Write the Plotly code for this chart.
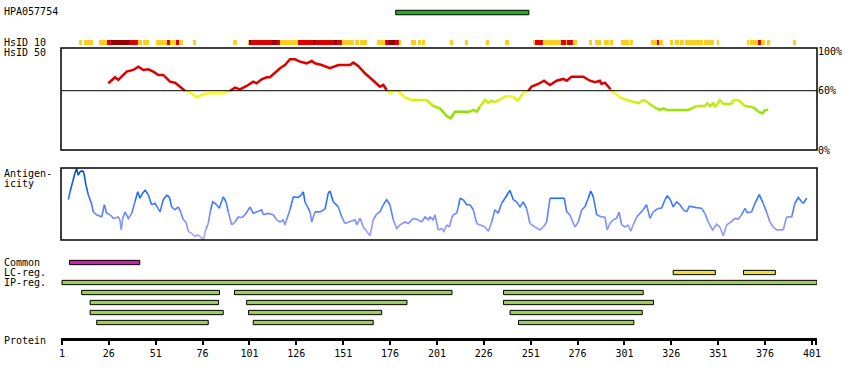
import plotly.graph_objects as go

W, H = 850, 380
FONT = "DejaVu Sans Mono"


def py(p):
    return 1 - p / H


# ---------------- data ----------------
antibody_name = "HPA057754"
antibody_start = [179]
antibody_end = [250]

hsid10_orange = [(10.1, 11.7), (12.7, 17.5), (20.7, 25.0), (41.5, 43.7), (44.2, 47.4), (51.1, 57.0),
                 (58.6, 61.8), (63.4, 65.5), (70.9, 72.5), (92.2, 94.3), (100.2, 100.7), (117.3, 126.9),
                 (150.3, 156.7), (157.3, 159.4), (159.9, 163.7), (169.0, 173.3), (180.7, 181.8),
                 (187.1, 189.8), (190.9, 192.5), (193.0, 194.6), (207.9, 209.5), (215.9, 217.5),
                 (227.1, 228.7), (237.3, 239.4), (252.2, 253.3), (257.5, 267.1), (269.8, 270.3),
                 (273.5, 275.7), (282.1, 283.7), (285.3, 288.5), (290.1, 292.7), (293.3, 294.9),
                 (299.1, 303.4), (303.9, 305.5), (315.1, 318.3), (319.4, 321.5), (325.3, 326.9),
                 (327.9, 330.1), (330.6, 332.7), (333.3, 342.9), (343.4, 348.7), (350.3, 351.4),
                 (366.3, 367.4), (367.9, 372.2), (373.8, 376.0), (377.0, 378.6), (390.9, 392.5)]
hsid10_red = [(25.0, 27.1), (37.3, 41.5), (57.0, 58.6), (61.8, 63.4), (101.8, 113.0), (115.7, 117.3),
              (126.9, 134.9), (136.5, 146.1), (147.7, 150.3), (173.3, 174.9), (178.6, 180.7),
              (253.3, 257.5), (267.1, 269.8), (270.3, 273.5), (318.3, 319.4), (372.2, 373.8)]
hsid10_darkred = [(27.1, 37.3), (100.7, 101.8), (113.0, 115.7), (134.9, 136.5), (146.1, 147.7),
                  (174.9, 178.6)]

hsid50_res = [25.7, 29.3, 31.0, 35.5, 39.0, 41.7, 44.4, 47.0, 49.7, 52.4, 55.0, 58.6, 61.3, 64.8, 66.6,
              70.2, 72.8, 75.5, 78.2, 87.0, 90.6, 93.3, 95.9, 99.5, 103.0, 104.8, 107.5, 110.2, 111.9,
              114.6, 117.3, 119.9, 122.6, 125.3, 127.9, 131.5, 134.2, 135.9, 139.5, 143.9, 148.4,
              154.6, 156.4, 159.0, 162.6, 166.2, 170.6, 172.4, 174.2, 175.9, 177.7, 180.4, 183.9,
              187.5, 190.2, 193.7,
              195.5, 199.0, 202.6, 206.2, 208.3, 210.6, 218.6, 220.4, 222.2, 223.9, 226.6, 228.4,
              230.2, 231.9, 234.6, 238.2, 241.7, 243.9, 247.0, 249.7, 251.5, 255.0, 258.1, 261.3,
              264.8, 268.4, 270.2, 272.8, 279.0, 282.6, 285.3, 287.9, 288.8, 290.6, 293.6, 295.9,
              298.6, 302.2, 305.7, 308.4, 311.1, 313.7, 316.4, 318.2, 320.0, 321.8, 323.5, 335.0,
              336.8, 339.5, 343.9, 345.2, 346.6, 348.4, 349.3, 351.9, 353.7, 358.2, 359.0, 361.7,
              365.3, 369.7, 372.4, 374.7, 375.9, 377.7]
hsid50_val = [67.5, 73.6, 70.9, 79.3, 81, 84.3, 81, 81.7, 79.3, 75.9, 75.9, 69.1, 68.1, 63.1, 60,
              57.4, 53.3, 55.7, 57.4, 57.4, 60, 63.1, 61.4, 64.8, 69.1, 67.5, 71.6, 73.6, 73.6,
              78.2, 82.7, 86, 91.8, 91.8, 89.4, 87.7, 90, 87.7, 86, 82.7, 86,
              86, 88.4, 85, 77.6, 71.6, 64.1, 65.8, 60.7, 57.4, 59.7, 59.7, 53.3,
              50.6, 50.6, 50.6,
              50.6, 44.5, 42.2, 34.4, 32.1, 38.8, 38.8, 40.5, 38.8, 43.8, 50.6, 47.9,
              49.9, 48.3, 51.3, 54.7, 53.9, 49.9, 57.4, 60, 64.1, 66.8, 70.1, 65.8,
              70.1, 71.9, 70.1, 74.2, 74.2, 70.1, 68.5, 70.1, 66.8, 68.1, 61.4, 57.4,
              53.3, 50.6, 48.9, 47.3, 50.6, 47.9, 43.8, 42.2, 40.5, 42.2, 40.5, 40.5,
              42.2, 44.5, 44.5, 47.3, 44.5, 47.3, 43.2, 50.6, 46.6, 46.6, 50.6, 50.6,
              44.5, 43.2, 38.8, 37.1, 40.5, 40.5]

antigen_res = [4.4, 5.3, 6.7, 7.9, 8.8, 9.7, 10.6, 12.0, 12.7, 13.8,
               15.0, 16.8, 17.7, 19.5, 22.2, 23.6, 24.8, 26.6, 28.4, 31.0,
               31.9, 32.6, 33.4, 34.6, 36.4, 38.2, 39.9, 41.4, 42.6, 44.0,
               45.3, 47.0, 48.8, 50.6, 51.8, 53.3, 55.0, 56.8, 58.2, 59.5,
               61.3, 63.0, 64.3, 65.7, 67.1, 68.4, 70.2, 71.9, 73.2, 74.6,
               76.4, 77.6, 79.0, 80.3, 81.4, 83.5, 84.9, 87.0, 88.5, 89.7,
               91.5, 93.3, 95.0, 96.8, 98.6, 100.4, 101.3, 103.0, 107.5, 108.4,
               111.0, 113.7, 115.5, 117.3, 119.0, 119.9, 120.8, 122.6, 124.4, 127.0,
               128.8, 129.7, 130.6, 133.3, 134.2, 135.9, 138.6, 141.3, 143.0, 143.9,
               145.7, 148.4, 150.2, 151.9, 154.6, 157.3, 158.2, 159.9, 160.8, 161.7,
               163.5, 165.3, 167.0, 168.8, 170.6, 172.4, 174.2, 175.9, 177.7, 179.5,
               181.3, 183.9, 185.7, 188.4, 191.0, 192.8, 194.6, 196.4, 197.3, 199.0,
               199.9, 201.7, 203.5, 204.7, 206.2, 207.6, 208.8, 209.7, 211.5, 212.4,
               213.3, 215.0, 216.8, 218.6, 220.4, 222.2, 223.9, 226.6, 228.4, 230.2,
               231.9, 233.7, 235.5, 237.3, 239.9, 241.7, 243.5, 245.3, 247.0, 248.8,
               250.6, 253.3, 255.9, 257.7, 259.5, 261.3, 263.9, 266.6, 268.9, 270.2,
               271.9, 274.6, 276.4, 278.2, 279.9, 281.7, 283.0, 284.4, 286.2, 288.8,
               290.6, 291.8, 293.3, 295.0, 296.8, 298.1, 299.5, 301.3, 303.1, 304.3,
               305.7, 307.5, 309.3, 311.0, 312.8, 314.6, 316.4, 319.0, 320.8, 322.6,
               323.8, 325.3, 327.0, 328.8, 330.6, 332.4, 334.2, 335.6, 339.5, 342.2,
               343.9, 345.7, 348.0, 350.2, 351.9, 353.7, 355.5, 357.3, 359.9, 361.7,
               363.5, 365.3, 366.5, 368.8, 370.6, 372.9, 375.0, 376.8, 378.6, 380.4,
               382.2, 385.7, 387.5, 390.2, 391.9, 393.7, 395.5, 396.4, 398.2]
antigen_val = [0.56, 0.67, 0.81, 0.93, 0.99, 0.90, 0.95, 0.96, 0.93, 0.76,
               0.63, 0.50, 0.39, 0.35, 0.32, 0.49, 0.37, 0.35, 0.30, 0.32,
               0.28, 0.14, 0.30, 0.39, 0.30, 0.37, 0.53, 0.67, 0.58, 0.65,
               0.69, 0.63, 0.49, 0.51, 0.46, 0.39, 0.56, 0.62, 0.60, 0.46,
               0.42, 0.46, 0.39, 0.28, 0.25, 0.12, 0.09, 0.05, 0.07, 0.05,
               0.00, 0.14, 0.23, 0.42, 0.53, 0.49, 0.44, 0.60, 0.53, 0.39,
               0.21, 0.25, 0.32, 0.31, 0.35, 0.42, 0.46, 0.37, 0.42, 0.35,
               0.37, 0.35, 0.28, 0.25, 0.28, 0.21, 0.28, 0.42, 0.60, 0.59,
               0.63, 0.67, 0.53, 0.39, 0.25, 0.39, 0.39, 0.43, 0.65, 0.68,
               0.53, 0.46, 0.32, 0.23, 0.25, 0.28, 0.21, 0.30, 0.25, 0.18,
               0.12, 0.06, 0.28, 0.36, 0.39, 0.49, 0.56, 0.49, 0.28, 0.16,
               0.21, 0.25, 0.23, 0.30, 0.28, 0.25, 0.32, 0.28, 0.32, 0.28,
               0.35, 0.14, 0.16, 0.12, 0.21, 0.18, 0.30, 0.35, 0.37, 0.46,
               0.58, 0.56, 0.49, 0.49, 0.42, 0.23, 0.21, 0.18, 0.12, 0.25,
               0.42, 0.37, 0.51, 0.58, 0.69, 0.56, 0.53, 0.46, 0.53, 0.44,
               0.23, 0.18, 0.14, 0.18, 0.25, 0.58, 0.58, 0.59, 0.58, 0.39,
               0.35, 0.18, 0.25, 0.42, 0.46, 0.58, 0.68, 0.60, 0.35, 0.32,
               0.32, 0.14, 0.23, 0.28, 0.30, 0.39, 0.21, 0.18, 0.21, 0.12,
               0.21, 0.32, 0.37, 0.42, 0.49, 0.30, 0.39, 0.44, 0.44, 0.56,
               0.61, 0.57, 0.46, 0.53, 0.49, 0.42, 0.39, 0.47, 0.45, 0.44,
               0.37, 0.25, 0.14, 0.22, 0.18, 0.06, 0.21, 0.24, 0.30, 0.29,
               0.35, 0.44, 0.38, 0.39, 0.51, 0.63, 0.51, 0.39, 0.25, 0.18,
               0.14, 0.14, 0.32, 0.32, 0.51, 0.59, 0.53, 0.51, 0.58]

common_regions = [(5, 42.5)]
lc_regions = [(327, 349.5), (364.5, 381.5)]
ip_regions = [
    [(1, 403.7)],
    [(11.5, 85), (93, 209), (236.5, 311)],
    [(16, 84.5), (99.5, 185), (236.5, 316.5)],
    [(16, 87), (100.5, 171.5), (240, 310.5)],
    [(19.5, 79), (103, 167), (244.5, 306)],
]
track_labels = ["Common", "LC-reg.", "IP-reg."]
protein_ticks = [1, 26, 51, 76, 101, 126, 151, 176, 201, 226, 251, 276, 301, 326, 351, 376, 401]
protein_length = 403.7
hsid50_labels = ["0%", "60%", "100%"]
hsid50_label_vals = [0, 60, 100]
hsid50_threshold = 60

assert len(hsid50_res) == len(hsid50_val)
assert len(antigen_res) == len(antigen_val)

# ---------------- helpers ----------------
def lerp(a, b, t):
    return tuple(int(round(a[i] + (b[i] - a[i]) * t)) for i in range(3))


def hex_(c):
    return "#%02x%02x%02x" % c


def hsid_color(v):
    if v >= hsid50_threshold:
        return "#dd0000"
    t = min(max((58 - v) / 20.0, 0), 1)
    t = round(t * 8) / 8
    return hex_(lerp((255, 250, 30), (140, 225, 0), t))


ANT_STOPS = [(0.0, (175, 165, 255)), (0.3, (120, 140, 255)), (0.5, (60, 120, 255)),
             (0.7, (10, 100, 250)), (1.0, (0, 70, 165))]


def antigen_color(v):
    v = round(v * 20) / 20
    for (a, ca), (b, cb) in zip(ANT_STOPS[:-1], ANT_STOPS[1:]):
        if v <= b:
            return hex_(lerp(ca, cb, (v - a) / (b - a)))
    return hex_(ANT_STOPS[-1][1])


def seg_traces(xs, ys, colfn, width, yaxis):
    out = []
    cur = None
    cx, cy = [], []
    for i in range(len(xs) - 1):
        c = colfn((ys[i] + ys[i + 1]) / 2)
        if c != cur:
            if cx:
                out.append(go.Scatter(x=cx, y=cy, mode="lines", line=dict(color=cur, width=width),
                                      yaxis=yaxis, xaxis="x", hoverinfo="skip"))
            cur = c
            cx, cy = [xs[i]], [ys[i]]
        cx.append(xs[i + 1])
        cy.append(ys[i + 1])
    if cx:
        out.append(go.Scatter(x=cx, y=cy, mode="lines", line=dict(color=cur, width=width),
                              yaxis=yaxis, xaxis="x", hoverinfo="skip"))
    return out


def hbar(regions, row, color, width, yaxis, border=True):
    return go.Bar(
        orientation="h",
        base=[s for s, e in regions],
        x=[e - s for s, e in regions],
        y=[row] * len(regions),
        width=width,
        marker=dict(color=color, line=dict(color="black", width=1 if border else 0)),
        xaxis="x", yaxis=yaxis, hoverinfo="skip",
    )


fig = go.Figure()

# antibody track
fig.add_trace(hbar(list(zip(antibody_start, antibody_end)), 0, "#22aa22", 0.45, "y5"))

# HsID 10 track
fig.add_trace(hbar(hsid10_orange, 0, "#ffcc22", 1.0, "y4", border=False))
fig.add_trace(hbar(hsid10_red, 0, "#dd0000", 1.0, "y4", border=False))
fig.add_trace(hbar(hsid10_darkred, 0, "#990000", 1.0, "y4", border=False))

# HsID 50 line
for t in seg_traces(hsid50_res, hsid50_val, hsid_color, 2.5, "y"):
    fig.add_trace(t)

# Antigenicity line
for t in seg_traces(antigen_res, antigen_val, antigen_color, 1.6, "y2"):
    fig.add_trace(t)

# features
fig.add_trace(hbar(common_regions, 0, "#cc22aa", 0.43, "y3"))
fig.add_trace(hbar(lc_regions, 1, "#eedd33", 0.43, "y3"))
for i, row in enumerate(ip_regions):
    fig.add_trace(hbar(row, 2 + i, "#9ccc5a", 0.43, "y3"))

x_dom = [61 / W, 817 / W]
x0 = 1 - 1 / 1.875

hidden_y = dict(anchor="x", showgrid=False, zeroline=False, showticklabels=False, ticks="",
                automargin=False, fixedrange=True)

layout = dict(
    width=W, height=H, autosize=False,
    margin=dict(l=0, r=0, t=0, b=0, pad=0, autoexpand=False),
    paper_bgcolor="white", plot_bgcolor="rgba(0,0,0,0)",
    showlegend=False, barmode="overlay",
    font=dict(family=FONT, size=10, color="black"),
    xaxis=dict(domain=x_dom, range=[x0, protein_length], anchor="free", position=py(338.5),
               automargin=False, fixedrange=True,
               showgrid=False, zeroline=False, showline=True, linewidth=3, linecolor="black",
               ticks="outside", ticklen=4, tickwidth=2, tickcolor="black",
               tickvals=protein_ticks + [protein_length - 0.3],
               ticktext=[str(v) for v in protein_ticks] + [""],
               tickfont=dict(family=FONT, size=10, color="black")),
    yaxis=dict(domain=[py(150), py(48)], range=[0, 103.2], anchor="x", side="right",
               automargin=False, fixedrange=True,
               showgrid=False, zeroline=False, showline=False, ticks="",
               tickvals=hsid50_label_vals, ticktext=hsid50_labels,
               tickfont=dict(family=FONT, size=10, color="black")),
    yaxis2=dict(domain=[py(240), py(168)], range=[0, 1], **hidden_y),
    yaxis3=dict(domain=[py(327.5), py(257.5)], range=[6.5, -0.5], **hidden_y),
    yaxis4=dict(domain=[py(45), py(40)], range=[-0.5, 0.5], **hidden_y),
    yaxis5=dict(domain=[py(17.5), py(7.5)], range=[-0.5, 0.5], **hidden_y),
)
fig.update_layout(**layout)

# panel boxes and 60% line
for ax in ["y", "y2"]:
    fig.add_shape(type="rect", xref="x domain", yref=f"{ax} domain", x0=0, x1=1, y0=0, y1=1,
                  line=dict(color="black", width=1.5), fillcolor="rgba(0,0,0,0)", layer="above")
fig.add_shape(type="line", xref="x domain", yref="y", x0=0, x1=1, y0=hsid50_threshold,
              y1=hsid50_threshold, line=dict(color="black", width=1))

# left labels
left_labels = [(antibody_name, 12), ("HsID 10", 42.5), ("HsID 50", 52.5), ("Antigen-", 173.5),
               ("icity", 183.5), (track_labels[0], 262.5), (track_labels[1], 272.5),
               (track_labels[2], 282.5), ("Protein", 340)]
for txt, ypx in left_labels:
    fig.add_annotation(text=txt, xref="paper", yref="paper", x=2 / W, y=py(ypx),
                       xanchor="left", yanchor="middle", showarrow=False,
                       font=dict(family=FONT, size=10, color="black"))

fig.write_html(
    "out.html",
    config={"displayModeBar": False, "staticPlot": True},
    post_script=("document.documentElement.style.margin='0';"
                 "document.documentElement.style.overflow='hidden';"
                 "document.body.style.margin='0';document.body.style.padding='0';"
                 "document.body.style.overflow='hidden';"),
)
